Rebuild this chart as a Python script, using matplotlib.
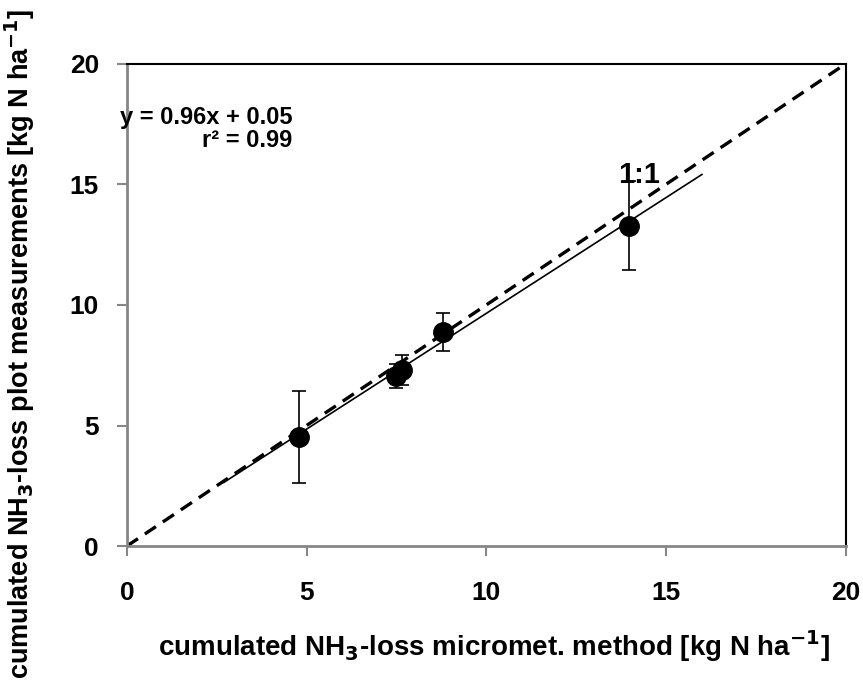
import matplotlib
matplotlib.use("Agg")
import matplotlib.pyplot as plt
import numpy as np

plt.rcParams['font.family'] = ['Liberation Sans', 'DejaVu Sans']
plt.rcParams['font.weight'] = 'bold'
plt.rcParams['mathtext.default'] = 'bf'

# data
x_micromet = [4.78, 7.5, 7.65, 8.79, 13.96]
y_plot = [4.52, 7.05, 7.3, 8.88, 13.28]
y_err = [1.9, 0.5, 0.62, 0.78, 1.85]

slope, intercept = 0.96, 0.05
fit_range = [2.7, 16.0]
one_to_one = [0, 20]

fig = plt.figure(figsize=(8.63, 6.93), dpi=100)
ax = fig.add_axes([0.147, 0.212, 0.833, 0.696])

ax.plot(one_to_one, one_to_one, color='black', lw=2.4, ls=(0, (4, 2.5)), zorder=2)
xf = np.array(fit_range)
ax.plot(xf, slope * xf + intercept, color='black', lw=1.2, zorder=2)
ax.errorbar(x_micromet, y_plot, yerr=y_err, fmt='o', color='black', ms=14,
            elinewidth=1.2, capsize=5, capthick=1.2, zorder=3)

ax.text(14.25, 15.4, '1:1', fontsize=21, fontweight='bold', ha='center', va='center')
ax.text(4.6, 17.3, 'y = 0.96x + 0.05\nr² = 0.99', fontsize=17, fontweight='bold',
        ha='right', va='center', multialignment='right', linespacing=1.0)

ax.set_xlim(0, 20)
ax.set_ylim(0, 20)
ax.set_xticks([0, 5, 10, 15, 20])
ax.set_yticks([0, 5, 10, 15, 20])
ax.tick_params(labelsize=19, direction='out', length=7, width=1.5, color='#868686')
ax.tick_params(axis='x', pad=18)
ax.tick_params(axis='y', pad=13)
for lab in ax.get_xticklabels() + ax.get_yticklabels():
    lab.set_fontweight('bold')
for side in ['left', 'bottom']:
    ax.spines[side].set_color('#868686')
    ax.spines[side].set_linewidth(2)
for side in ['top', 'right']:
    ax.spines[side].set_color('black')
    ax.spines[side].set_linewidth(1.5)

ax.set_xlabel('cumulated NH$_3$-loss micromet. method [kg N ha$^{-1}$]',
              fontsize=20, fontweight='bold')
ax.set_ylabel('cumulated NH$_3$-loss plot measurements [kg N ha$^{-1}$]',
              fontsize=19.5, fontweight='bold')
ax.xaxis.set_label_coords(0.51, -0.17)
ax.yaxis.set_label_coords(-0.125, 0.42)

fig.savefig('out.png', dpi=100)
